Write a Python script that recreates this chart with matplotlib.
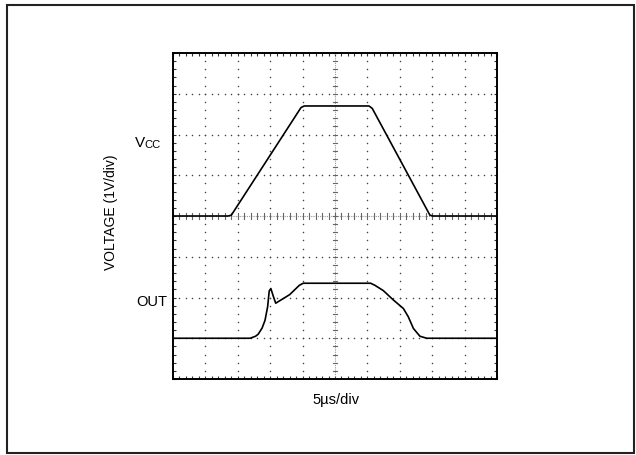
import numpy as np
import matplotlib
matplotlib.use("Agg")
import matplotlib.pyplot as plt
from matplotlib.patches import Rectangle
from matplotlib.font_manager import findfont, FontProperties

# time in microseconds (5us/div), voltage in volts (1V/div)
vcc_t = [0.0, 8.5, 9.0, 19.75, 20.25, 30.25, 30.75, 39.65, 40.1, 50.0]
vcc_v = [4.0, 4.0, 4.02, 6.66, 6.70, 6.70, 6.64, 4.02, 4.0, 4.0]

out_t = [0.0, 11.9, 12.75, 13.15, 13.75, 14.2, 14.6, 14.85, 15.1, 15.5, 15.85,
         18.0, 19.5, 20.1, 30.5, 31.15, 32.45, 34.0, 35.55, 36.3, 37.1, 38.1,
         39.15, 50.0]
out_v = [1.0, 1.0, 1.05, 1.10, 1.25, 1.44, 1.77, 2.16, 2.22, 2.02, 1.86,
         2.07, 2.30, 2.35, 2.35, 2.30, 2.17, 1.94, 1.73, 1.53, 1.24, 1.05,
         1.0, 1.0]

n_xdiv, n_ydiv = 10, 8
us_per_div, v_per_div = 5.0, 1.0

narrow = "Liberation Sans Narrow"
try:
    findfont(FontProperties(family=narrow), fallback_to_default=False)
    fam = [narrow, "DejaVu Sans"]
except Exception:
    fam = ["Liberation Sans", "DejaVu Sans"]

fig = plt.figure(figsize=(6.36, 4.55), dpi=100)
fig.patches.append(Rectangle((7 / 636, 2 / 455), 627 / 636, 448 / 455,
                             transform=fig.transFigure, fill=False,
                             edgecolor="#222222", linewidth=1.5))

ax = fig.add_axes([173 / 636, 1 - 379 / 455, 324 / 636, 326 / 455])
xmax = n_xdiv * us_per_div
ymax = n_ydiv * v_per_div
ax.set_xlim(0, xmax)
ax.set_ylim(0, ymax)

# dotted graticule, 5 dots per division
for i in range(1, n_xdiv):
    if i == n_xdiv // 2:
        continue
    ys = np.arange(0, ymax + 0.01, v_per_div / 5)
    ax.plot([i * us_per_div] * len(ys), ys, ls="none", marker="o",
            ms=1.1, mec="none", mfc="#444444")
for j in range(1, n_ydiv):
    if j == n_ydiv // 2:
        continue
    xs = np.arange(0, xmax + 0.01, us_per_div / 5)
    ax.plot(xs, [j * v_per_div] * len(xs), ls="none", marker="o",
            ms=1.1, mec="none", mfc="#444444")

# center axes with minor ticks
xc, yc = xmax / 2, ymax / 2
ax.axvline(xc, color="#999999", lw=0.8, ls=(0, (1, 1)))
ax.axhline(yc, color="#999999", lw=0.8, ls=(0, (1, 1)))
for y in np.arange(0, ymax + 0.01, v_per_div / 5):
    ax.plot([xc - 0.35, xc + 0.35], [y, y], color="#666666", lw=0.8)
for x in np.arange(0, xmax + 0.01, us_per_div / 5):
    ax.plot([x, x], [yc - 0.07, yc + 0.07], color="#666666", lw=0.8)

ax.plot(vcc_t, vcc_v, color="black", lw=1.2)
ax.plot(out_t, out_v, color="black", lw=1.2)

# border ticks every fifth of a division
ax.set_xticks(np.arange(0, xmax + 0.01, us_per_div / 5))
ax.set_yticks(np.arange(0, ymax + 0.01, v_per_div / 5))
ax.tick_params(direction="in", length=2.5, width=0.8, top=True, right=True,
               labelbottom=False, labelleft=False, color="#333333")
for s in ax.spines.values():
    s.set_linewidth(1.4)

fig.text(111 / 636, 1 - 212 / 455, "VOLTAGE (1V/div)", rotation=90,
         ha="center", va="center", fontsize=10, family=fam)
fig.text(336 / 636, 1 - 400 / 455, "5\u00b5s/div", ha="center", va="center",
         fontsize=10.5, family=fam)
fig.text(135 / 636, 1 - 147 / 455, "V", ha="left", va="baseline",
         fontsize=11, family=fam)
fig.text(144.5 / 636, 1 - 148 / 455, "CC", ha="left", va="baseline",
         fontsize=8, family=fam)
fig.text(136 / 636, 1 - 302 / 455, "OUT", ha="left", va="center",
         fontsize=10.5, family=fam)

fig.savefig("out.png", dpi=100)
